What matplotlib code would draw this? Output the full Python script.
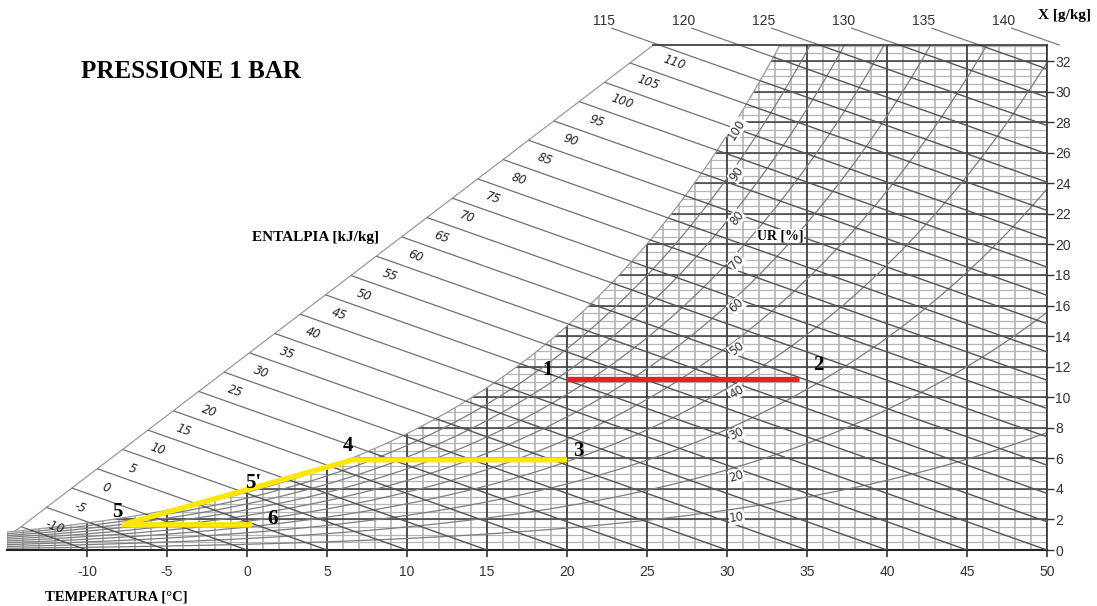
import numpy as np
import matplotlib.pyplot as plt
from matplotlib.patches import Polygon

plt.rcParams['axes.unicode_minus'] = False

# ---- chart data -------------------------------------------------------------
temp_ticks = list(range(-10, 55, 5))
x_ticks = list(range(0, 34, 2))
h_white = list(range(-10, 115, 5))          # enthalpy lines labelled in the white area
h_top = [115, 120, 125, 130, 135, 140]      # enthalpy lines labelled above the frame
rh_curves = [10, 20, 30, 40, 50, 60, 70, 80, 90]
rh_labels = [10, 20, 30, 40, 50, 60, 70, 80, 90, 100]

# process lines
red_t = [20, 34.5]
red_x = [11.2, 11.2]
yellow_t = [20, 6.6, -7.8, 0.3]
yellow_x = [5.9, 5.9, 1.65, 1.65]
point_names = ['1', '2', '3', '4', "5'", '5', '6']
point_t = [18.8, 35.7, 20.7, 6.3, 0.4, -8.1, 1.6]
point_x = [11.8, 12.1, 6.5, 6.8, 4.4, 2.5, 2.0]

P = 101325.0
K = 2.7            # kJ/kg per g/kg on this chart
T_MIN, T_MAX = -15, 50
X_TOP = 33.05
X_LAB = 34.15      # where the top enthalpy lines start
bnd_t = [-14.8, 25.4]   # left border of the enthalpy fan
bnd_x = [0.98, 33.05]


def psat(t):
    return 610.94 * np.exp(17.625 * t / (t + 243.04))


def xsat(t, phi=1.0):
    pv = phi * psat(t)
    return 622.0 * pv / (P - pv)


s = (bnd_x[1] - bnd_x[0]) / (bnd_t[1] - bnd_t[0])


def xbnd(t):
    return bnd_x[0] + s * (t - bnd_t[0])


# saturation limits
tt = np.linspace(-15, 0, 3001)
t_int = tt[np.argmax(xbnd(tt) - xsat(tt) >= 0)]
x_int = xsat(t_int)
tt = np.linspace(25, 40, 3001)
t_top = np.interp(X_TOP, xsat(tt), tt)

fig = plt.figure(figsize=(10.97, 6.06), dpi=100)
ax = fig.add_axes([7 / 1097, 56 / 606, 1040 / 1097, 505 / 606])
ax.set_xlim(T_MIN, T_MAX)
ax.set_ylim(0, X_TOP)

ts = np.linspace(T_MIN, t_top, 400)
grid_poly = Polygon(list(zip(ts, xsat(ts))) + [(T_MAX, X_TOP), (T_MAX, 0), (T_MIN, 0)],
                    closed=True, facecolor='none', edgecolor='none')
ax.add_patch(grid_poly)
ts2 = np.linspace(t_int, t_top, 400)
white_poly = Polygon([(t_int, x_int), (bnd_t[1], X_TOP), (t_top, X_TOP)]
                     + list(zip(ts2[::-1], xsat(ts2[::-1]))),
                     closed=True, facecolor='none', edgecolor='none')
ax.add_patch(white_poly)


def clipped(xs, ys, poly, **kw):
    ln, = ax.plot(xs, ys, **kw)
    ln.set_clip_path(poly)
    return ln


# fine grid
for v in np.arange(-15, 51, 1):
    clipped([v, v], [0, X_TOP], grid_poly, color='#bab6ba', lw=1.3, zorder=1)
for y in np.arange(0, 33.1, 0.5):
    clipped([T_MIN, T_MAX], [y, y], grid_poly, color='#b5b5b5', lw=0.9, zorder=1)
# main grid
for v in range(-10, 51, 5):
    clipped([v, v], [0, X_TOP], grid_poly, color='#3c3c3c', lw=1.2, zorder=2)
for y in x_ticks[1:]:
    clipped([T_MIN, T_MAX], [y, y], grid_poly, color='#3a3a3a', lw=1.1, zorder=2)

# relative humidity curves
tr = np.linspace(T_MIN, T_MAX, 400)
for rh in rh_curves:
    clipped(tr, xsat(tr, rh / 100), grid_poly, color='#7d7d7d', lw=0.9, zorder=2.5)
ax.plot(ts, xsat(ts), color='#9a9a9a', lw=0.9, zorder=3)
ax.plot([t_int, bnd_t[1]], [x_int, X_TOP], color='#9a9a9a', lw=0.9, zorder=3)

# enthalpy lines
for h in h_white + h_top:
    if h in h_top:
        t0 = h - K * X_LAB
        tab = np.array([t0, h - K * X_TOP])
        ax.plot(tab, (h - tab) / K, color='#7d7d7d', lw=0.9, clip_on=False, zorder=3)
        ax.text(t0 - 0.5, 34.6, str(h), ha='center', va='center', fontsize=10,
                color='#333333', family='Liberation Sans', clip_on=False)
    else:
        t0 = (h - K * bnd_x[0] + K * s * bnd_t[0]) / (1 + K * s)
        ax.text(t0 + 2.1 + 0.0055 * (h + 10), xbnd(t0), str(h), ha='center', va='center',
                fontsize=8.5, style='italic', color='#222222', rotation=-19.5,
                rotation_mode='anchor')
    t_line = np.array([t0, min(h, T_MAX)])
    x_line = (h - t_line) / K
    clipped(t_line, x_line, white_poly, color='#707070', lw=0.9, zorder=3)
    clipped(t_line, x_line, grid_poly, color='#555555', lw=1.0, zorder=3)

# relative humidity labels
t_rh = 30.6
for rh in rh_labels:
    phi = rh / 100
    a = ax.transData.transform((t_rh - 0.3, xsat(t_rh - 0.3, phi)))
    b = ax.transData.transform((t_rh + 0.3, xsat(t_rh + 0.3, phi)))
    ang = np.degrees(np.arctan2(b[1] - a[1], b[0] - a[0]))
    ax.text(t_rh, xsat(t_rh, phi) - 0.6, str(rh), ha='center', va='center',
            rotation=ang, rotation_mode='anchor', fontsize=8.5, color='#333333',
            bbox=dict(facecolor='white', edgecolor='none', pad=0.3), zorder=4)

# frame
ax.plot([bnd_t[1], T_MAX], [X_TOP, X_TOP], color='#333333', lw=1.2, clip_on=False, zorder=4)
for side in ['left', 'top']:
    ax.spines[side].set_visible(False)
ax.spines['bottom'].set_color('#222222')
ax.spines['bottom'].set_linewidth(1.5)
ax.spines['right'].set_color('#333333')
ax.spines['right'].set_linewidth(1.2)
ax.yaxis.tick_right()
ax.set_xticks(temp_ticks)
ax.set_yticks(x_ticks)
ax.tick_params(axis='x', direction='out', length=5, width=1.2, colors='#333333',
               labelsize=10, pad=6)
ax.tick_params(axis='y', direction='out', length=5, width=1.0, colors='#333333',
               labelsize=10, pad=1)
for lab in ax.get_xticklabels() + ax.get_yticklabels():
    lab.set_family('Liberation Sans')

# process lines
ax.plot(red_t, red_x, color='#e8202a', lw=3.8, solid_capstyle='butt', zorder=6)
ax.plot(yellow_t, yellow_x, color='#ffe800', lw=3.8, solid_capstyle='butt',
        solid_joinstyle='miter', zorder=6)
for name, t, x in zip(point_names, point_t, point_x):
    ax.text(t, x, name, ha='center', va='center', fontsize=15, fontweight='bold',
            family='Liberation Serif', zorder=7)

# titles
serif = dict(family='Liberation Serif', fontweight='bold', color='black')
fig.text(191 / 1097, 1 - 72 / 606, 'PRESSIONE 1 BAR', ha='center', va='center',
         fontsize=18, **serif)
fig.text(315 / 1097, 1 - 238 / 606, 'ENTALPIA [kJ/kg]', ha='center', va='center',
         fontsize=11, **serif)
fig.text(780 / 1097, 1 - 236 / 606, 'UR [%]', ha='center', va='center', fontsize=10,
         bbox=dict(facecolor='white', edgecolor='none', pad=0.5), **serif)
fig.text(116 / 1097, 1 - 597 / 606, 'TEMPERATURA [°C]', ha='center', va='center',
         fontsize=10.5, **serif)
fig.text(1064 / 1097, 1 - 15 / 606, 'X [g/kg]', ha='center', va='center',
         fontsize=11, **serif)

fig.savefig('out.png', dpi=100)
